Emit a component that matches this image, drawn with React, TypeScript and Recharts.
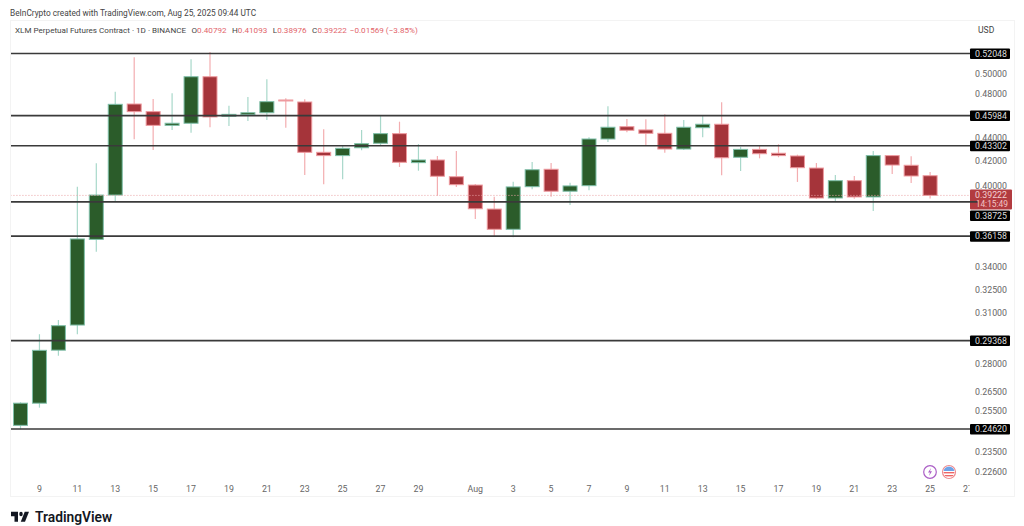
import { Bar, ComposedChart, ReferenceLine, XAxis, YAxis } from 'recharts';

const dates = [
  'Jul 8', 'Jul 9', 'Jul 10', 'Jul 11', 'Jul 12', 'Jul 13', 'Jul 14', 'Jul 15', 'Jul 16', 'Jul 17', 'Jul 18', 'Jul 19',
  'Jul 20', 'Jul 21', 'Jul 22', 'Jul 23', 'Jul 24', 'Jul 25', 'Jul 26', 'Jul 27', 'Jul 28', 'Jul 29', 'Jul 30', 'Jul 31',
  'Aug 1', 'Aug 2', 'Aug 3', 'Aug 4', 'Aug 5', 'Aug 6', 'Aug 7', 'Aug 8', 'Aug 9', 'Aug 10', 'Aug 11', 'Aug 12',
  'Aug 13', 'Aug 14', 'Aug 15', 'Aug 16', 'Aug 17', 'Aug 18', 'Aug 19', 'Aug 20', 'Aug 21', 'Aug 22', 'Aug 23', 'Aug 24',
  'Aug 25', 'Aug 26', 'Aug 27',
];

const opens = [
  0.248, 0.2592, 0.2881, 0.3029, 0.3593, 0.3925, 0.4706, 0.4635, 0.451, 0.4529, 0.4969, 0.4592,
  0.4607, 0.4625, 0.4744, 0.4725, 0.4274, 0.4246, 0.4313, 0.4352, 0.4436, 0.4187, 0.4209, 0.4071,
  0.4004, 0.3817, 0.3666, 0.3991, 0.4132, 0.3955, 0.3999, 0.4389, 0.4498, 0.4469, 0.4439, 0.4302,
  0.4489, 0.452, 0.4232, 0.4299, 0.4266, 0.4243, 0.4142, 0.3902, 0.4039, 0.391, 0.4246, 0.4165,
  0.40792,
];
const highs = [
  0.2597, 0.2974, 0.306, 0.3991, 0.4181, 0.4823, 0.5165, 0.4754, 0.4808, 0.5145, 0.522, 0.469,
  0.4773, 0.4944, 0.476, 0.4751, 0.4475, 0.4328, 0.4469, 0.4595, 0.4543, 0.4345, 0.4243, 0.4285,
  0.4012, 0.3912, 0.4031, 0.4192, 0.4184, 0.4023, 0.4404, 0.4685, 0.4567, 0.4565, 0.461, 0.4559,
  0.4595, 0.4722, 0.4322, 0.4328, 0.4343, 0.4254, 0.4184, 0.4085, 0.4077, 0.4285, 0.4249, 0.424,
  0.41093,
];
const lows = [
  0.2461, 0.2569, 0.2849, 0.2974, 0.3506, 0.3873, 0.4387, 0.4294, 0.4469, 0.4445, 0.4493, 0.4504,
  0.455, 0.4559, 0.4489, 0.4085, 0.401, 0.405, 0.4291, 0.4337, 0.4151, 0.412, 0.392, 0.3989,
  0.3742, 0.3617, 0.3608, 0.3971, 0.3912, 0.3848, 0.3963, 0.4363, 0.4448, 0.4328, 0.4271, 0.4294,
  0.4404, 0.4083, 0.4118, 0.4223, 0.4232, 0.4029, 0.3895, 0.3879, 0.3897, 0.3802, 0.4093, 0.4021,
  0.38976,
];
const closes = [
  0.2592, 0.288, 0.3025, 0.3596, 0.3925, 0.4703, 0.4635, 0.451, 0.4529, 0.4969, 0.4586, 0.461,
  0.4625, 0.4728, 0.4735, 0.4274, 0.4246, 0.4308, 0.4348, 0.4436, 0.419, 0.4209, 0.4075, 0.4007,
  0.3819, 0.3666, 0.3989, 0.4128, 0.3955, 0.3997, 0.4389, 0.4493, 0.4466, 0.4439, 0.4302, 0.4493,
  0.452, 0.4228, 0.4299, 0.4262, 0.4246, 0.4145, 0.3902, 0.4039, 0.391, 0.4246, 0.4167, 0.4077,
  0.39222,
];

const dateTicks = [
  'Jul 9', 'Jul 11', 'Jul 13', 'Jul 15', 'Jul 17', 'Jul 19', 'Jul 21', 'Jul 23', 'Jul 25', 'Jul 27', 'Jul 29',
  'Aug 1', 'Aug 3', 'Aug 5', 'Aug 7', 'Aug 9', 'Aug 11', 'Aug 13', 'Aug 15', 'Aug 17', 'Aug 19', 'Aug 21', 'Aug 23',
  'Aug 25', 'Aug 27',
];
const priceTicks = [0.5, 0.48, 0.44, 0.42, 0.4, 0.34, 0.325, 0.31, 0.28, 0.265, 0.255, 0.235, 0.226];
const levels = [0.52048, 0.45984, 0.43302, 0.38725, 0.36158, 0.29368, 0.2462];
const lastPrice = 0.39222;
const countdown = '14:15:49';

const chartData = dates.map((date, i) => ({
  date,
  open: opens[i],
  high: highs[i],
  low: lows[i],
  close: closes[i],
  range: highs[i] === undefined ? undefined : [lows[i], highs[i]],
}));

const FONT = 'Roboto, "Noto Sans", sans-serif';
const UP = { body: '#2b5c2a', edge: '#7fbfa9', wick: '#a8d8ca' };
const DOWN = { body: '#a5343a', edge: '#ee9a9f', wick: '#f3adb0' };

// bar height spans low..high on the log axis, so body ends can be placed from it
const Candle = (props: any) => {
  const { x, y, width, height, payload } = props;
  if (payload.high === undefined) return null;
  const { open, high, low, close } = payload;
  const c = close >= open ? UP : DOWN;
  const span = Math.log(high / low);
  const yOf = (v: number) => y + (height * Math.log(high / v)) / span;
  const top = yOf(Math.max(open, close));
  const bottom = yOf(Math.min(open, close));
  const mid = x + width / 2;
  return (
    <g>
      <line x1={mid} x2={mid} y1={y} y2={y + height} stroke={c.wick} strokeWidth={1.2} />
      <rect x={x + 0.5} y={top} width={width - 1} height={Math.max(bottom - top, 1)} fill={c.body} stroke={c.edge} strokeWidth={1} />
    </g>
  );
};

const DateTick = ({ x, y, payload }: any) => {
  const [month, day] = payload.value.split(' ');
  const text = day === '1' ? month : day;
  return (
    <g>
      <clipPath id={`clip-${day}-${month}`}>
        <rect x={0} y={470} width={969.5} height={30} />
      </clipPath>
      <text
        x={x}
        y={y + 6}
        textAnchor="middle"
        fontSize={8.8}
        fontFamily={FONT}
        fill="#666"
        clipPath={`url(#clip-${day}-${month})`}
      >
        {text}
      </text>
    </g>
  );
};

const PriceTick = ({ y, payload }: any) => (
  <text x={1007} y={y + 3} textAnchor="end" fontSize={8.8} fontFamily={FONT} fill="#666">
    {payload.value.toFixed(5)}
  </text>
);

const LevelTag = ({ viewBox, value }: any) => {
  // the 0.38725 tag gets pushed under the last price tag
  const cy = value === 0.38725 ? 215.5 : viewBox.y;
  return (
    <g>
      <rect x={970} y={cy - 5} width={40} height={10.5} fill="#000" rx={1} />
      <text x={1007} y={cy + 3.2} textAnchor="end" fontSize={8.8} fontFamily={FONT} fill="#ddd">
        {value.toFixed(5)}
      </text>
    </g>
  );
};

const LastTag = ({ viewBox }: any) => (
  <g>
    <rect x={970} y={viewBox.y - 6} width={42} height={20} fill="#b23b40" rx={1} />
    <text x={1007} y={viewBox.y + 3} textAnchor="end" fontSize={8.8} fontFamily={FONT} fill="#f3d0d0">
      {lastPrice.toFixed(5)}
    </text>
    <text x={1008} y={viewBox.y + 11.5} textAnchor="end" fontSize={8.4} fontFamily={FONT} fill="#f3c4c4">
      {countdown}
    </text>
  </g>
);

const Ohlc = ({ k, v }: { k: string; v: string }) => (
  <span style={{ marginLeft: 3.5 }}>
    {k}
    <span style={{ color: '#e2646a' }}>{v}</span>
  </span>
);

export default function App() {
  return (
    <div style={{ position: 'absolute', left: 0, top: 0, width: 1024, height: 526, background: '#fff', fontFamily: FONT, overflow: 'hidden' }}>
      <div style={{ position: 'absolute', left: 10, top: 20, width: 1005, height: 477, border: '1px solid #f3f3f3', boxSizing: 'border-box' }} />
      <div style={{ position: 'absolute', left: 10, top: 8, fontSize: 8.3, lineHeight: '10px', color: '#444', whiteSpace: 'nowrap' }}>
        BeInCrypto created with TradingView.com, Aug 25, 2025 09:44 UTC
      </div>
      <div style={{ position: 'absolute', left: 15, top: 25, fontSize: 8.1, lineHeight: '10px', color: '#444', whiteSpace: 'nowrap' }}>
        XLM Perpetual Futures Contract · 1D · BINANCE
        <Ohlc k=" O" v="0.40792" />
        <Ohlc k=" H" v="0.41093" />
        <Ohlc k=" L" v="0.38976" />
        <Ohlc k=" C" v="0.39222" />
        <span style={{ color: '#e2646a', marginLeft: 3 }}>−0.01569 (−3.85%)</span>
      </div>
      <div style={{ position: 'absolute', left: 978, top: 25, fontSize: 8.6, lineHeight: '10px', color: '#444' }}>USD</div>

      <div style={{ position: 'absolute', left: 0, top: 0 }}>
        <ComposedChart
          width={1024}
          height={526}
          data={chartData}
          margin={{ top: 20, right: 0, bottom: 0, left: 11 }}
          barCategoryGap={2}
        >
          <XAxis
            dataKey="date"
            ticks={dateTicks}
            interval={0}
            height={46}
            axisLine={false}
            tickLine={false}
            tickMargin={0}
            tick={<DateTick />}
          />
          <YAxis
            orientation="right"
            scale="log"
            domain={[0.2224, 0.5564]}
            allowDataOverflow
            ticks={priceTicks}
            interval={0}
            width={46.55}
            axisLine={false}
            tickLine={false}
            tick={<PriceTick />}
          />
          <ReferenceLine
            y={lastPrice}
            stroke="#e9a3a6"
            strokeWidth={1}
            strokeDasharray="1 2"
            label={<LastTag />}
          />
          {levels.map((level) => (
            <ReferenceLine
              key={level}
              y={level}
              stroke="#3a3a3a"
              strokeWidth={1.7}
              label={<LevelTag value={level} />}
            />
          ))}
          <Bar dataKey="range" barSize={15} shape={<Candle />} isAnimationActive={false} />
        </ComposedChart>
      </div>

      <svg width={1024} height={526} style={{ position: 'absolute', left: 0, top: 0, pointerEvents: 'none' }}>
        <defs>
          <clipPath id="flag">
            <circle cx={949} cy={472} r={5.5} />
          </clipPath>
        </defs>
        <circle cx={930} cy={472} r={6.3} fill="#fff" stroke="#ab5fc6" strokeWidth={1.2} />
        <path d="M931 468 L928 472.6 H930 L929 476 L932 471.3 H930 Z" fill="#ab5fc6" />
        <circle cx={949} cy={472} r={6.5} fill="#fff" stroke="#ee8b8f" strokeWidth={1.2} />
        <g clipPath="url(#flag)">
          <rect x={943} y={466} width={12} height={12} fill="#fff" />
          <rect x={943} y={466} width={12} height={5} fill="#6fa3e8" />
          <rect x={943} y={472} width={12} height={1.4} fill="#e66" />
          <rect x={943} y={475} width={12} height={1.4} fill="#e66" />
        </g>
        <g transform="translate(11 507.7) scale(0.5 0.667)" fill="#131722">
          <path d="M14 6H0v7h7v8h7V6z" />
          <circle cx="20" cy="9.5" r="3.5" />
          <path d="M28 21l8-15h-8.5l-8 15H28z" />
        </g>
      </svg>
      <div style={{ position: 'absolute', left: 35, top: 509, fontSize: 13.8, fontWeight: 600, color: '#131722', lineHeight: '16px' }}>
        TradingView
      </div>
    </div>
  );
}
